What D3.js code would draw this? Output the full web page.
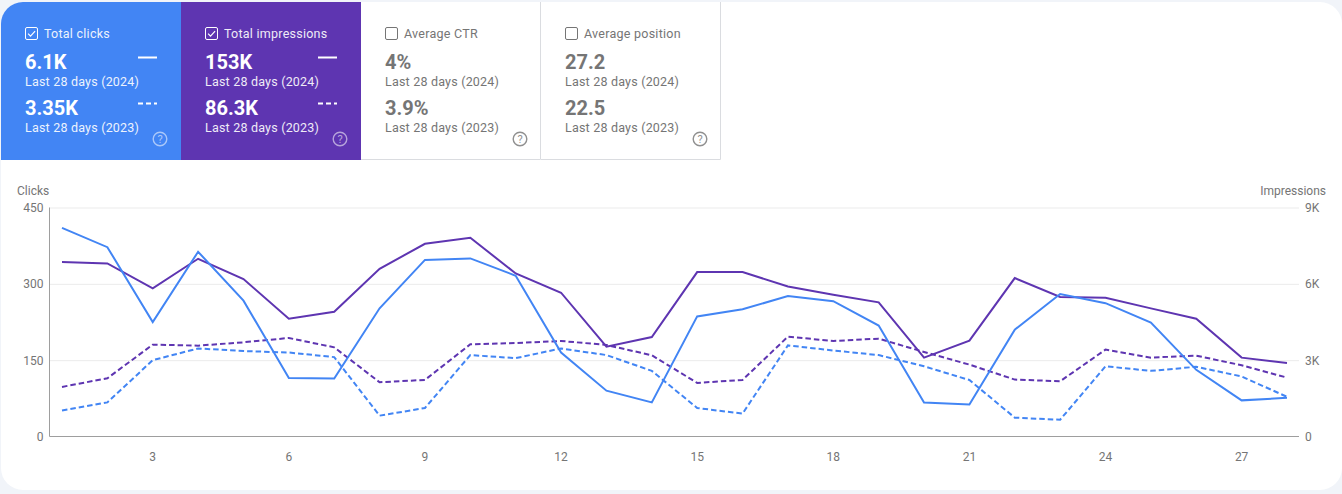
<!DOCTYPE html>
<html><head><meta charset="utf-8">
<script src="https://d3js.org/d3.v7.min.js"></script>
<style>
html,body{margin:0;padding:0;background:#f1f4f9;overflow:hidden}
svg{display:block;font-family:Roboto,sans-serif}
.domain{display:none}
</style></head><body>
<svg id="c" width="1342" height="494"></svg>
<script>
const days = d3.range(1, 29);
const clicks2024 = [410,372,225,363,267,115,114,252,347,350,316,165,90,67,236,250,276,266,218,67,63,210,280,262,224,131,71,76];
const clicks2023 = [51,67,150,173,168,165,156,41,56,160,154,173,160,129,56,45,179,169,160,138,111,37,33,138,129,137,118,78];
const impressions2024 = [6854,6802,5820,6985,6187,4630,4905,6592,7573,7809,6409,5651,3532,3911,6462,6462,5899,5572,5271,3100,3767,6226,5481,5454,5036,4630,3100,2891];
const impressions2023 = [1949,2289,3610,3571,3702,3872,3505,2132,2224,3623,3675,3754,3597,3192,2106,2224,3924,3754,3846,3322,2825,2237,2171,3414,3100,3178,2799,2315];
const xTicks = [3,6,9,12,15,18,21,24,27];
const clickTicks = [0,150,300,450];
const impressionTicks = [0,3000,6000,9000];
const kpiTitles = ["Total clicks","Total impressions","Average CTR","Average position"];
const kpiChecked = [true,true,false,false];
const kpiFill = ["#4285f4","#5e35b1","#ffffff","#ffffff"];
const kpiCurrent = ["6.1K","153K","4%","27.2"];
const kpiPrevious = ["3.35K","86.3K","3.9%","22.5"];
const labelCurrent = "Last 28 days (2024)";
const labelPrevious = "Last 28 days (2023)";
const BLUE = "#4285f4", PURPLE = "#5e35b1", GREY = "#757575";

const svg = d3.select("#c");
const W = 1342;
svg.append("clipPath").attr("id","card").append("rect")
  .attr("x",1).attr("y",2).attr("width",W-1).attr("height",488).attr("rx",22);
const root = svg.append("g").attr("clip-path","url(#card)");
root.append("rect").attr("x",1).attr("y",2).attr("width",W-1).attr("height",488).attr("fill","#fff");

// KPI tiles
const tileW = 180, tileH = 158;
kpiTitles.forEach((t,i) => {
  const on = kpiChecked[i];
  const g = root.append("g").attr("transform",`translate(${1+i*tileW},2)`);
  g.append("rect").attr("width",tileW).attr("height",tileH).attr("fill",kpiFill[i]);
  if(!on){
    g.append("path").attr("d",`M${tileW-.5},0V${tileH-.5}H0`).attr("fill","none").attr("stroke","#dadce0");
  }
  const head = on ? "#fff" : GREY;
  const cb = g.append("g").attr("transform","translate(24.5,25.5)");
  cb.append("rect").attr("width",12).attr("height",12).attr("rx",1.5)
    .attr("fill","none").attr("stroke",head).attr("stroke-width",1);
  if(on) cb.append("path").attr("d","M2.6,6.2L5,8.6L9.6,3.6").attr("fill","none").attr("stroke",head).attr("stroke-width",1.2);
  g.append("text").attr("x",43).attr("y",36).attr("font-size",12.5).attr("letter-spacing",.25)
    .attr("fill",head).attr("opacity",on?.9:1).text(t);
  [[kpiCurrent[i],labelCurrent,66.5,84],[kpiPrevious[i],labelPrevious,112.5,130]].forEach(([v,l,y1,y2]) => {
    g.append("text").attr("x",24).attr("y",y1).attr("font-size",20).attr("font-weight",700).attr("fill",head).text(v);
    g.append("text").attr("x",24).attr("y",y2).attr("font-size",12.5).attr("letter-spacing",.2)
      .attr("fill",head).attr("opacity",on?.9:1).text(l);
  });
  if(on){
    g.append("line").attr("x1",137).attr("x2",156).attr("y1",55.5).attr("y2",55.5).attr("stroke","#fff").attr("stroke-width",2);
    g.append("line").attr("x1",137).attr("x2",156).attr("y1",101.5).attr("y2",101.5).attr("stroke","#fff").attr("stroke-width",2).attr("stroke-dasharray","5 3");
  }
  const help = g.append("g").attr("transform","translate(159,137)").attr("opacity",on?.55:.8);
  help.append("circle").attr("r",6.8).attr("fill","none").attr("stroke",head).attr("stroke-width",1.4);
  help.append("text").attr("text-anchor","middle").attr("y",4).attr("font-size",11).attr("fill",head).text("?");
});

// Scales
const x = d3.scaleLinear().domain([1,28]).range([62,1287]);
const yL = d3.scaleLinear().domain([0,450]).range([436.5,207.5]);
const yR = d3.scaleLinear().domain([0,9000]).range([436.5,207.5]);
const left = 49.5, right = 1299;

// grid
const grid = root.append("g").attr("transform",`translate(${left},0)`)
  .call(d3.axisRight(yL).tickValues(clickTicks.slice(1)).tickSize(right-left).tickFormat(""));
grid.selectAll("line").attr("stroke","#ebebeb");
root.append("line").attr("x1",left).attr("x2",left).attr("y1",207.5).attr("y2",436.5).attr("stroke","#9e9e9e");
root.append("line").attr("x1",left).attr("x2",right).attr("y1",436.5).attr("y2",436.5).attr("stroke","#9e9e9e");

function styleAxis(g){ g.selectAll("text").attr("fill",GREY).attr("font-size",12).attr("font-family","Roboto,sans-serif"); g.selectAll("line").remove(); }
root.append("g").attr("transform","translate(49,0)")
  .call(d3.axisLeft(yL).tickValues(clickTicks).tickSize(0).tickPadding(5.5)).call(styleAxis);
root.append("g").attr("transform","translate(1299,0)")
  .call(d3.axisRight(yR).tickValues(impressionTicks).tickSize(0).tickPadding(6)
    .tickFormat(d => d === 0 ? "0" : (d/1000)+"K")).call(styleAxis);
root.append("g").attr("transform","translate(-0.5,437)")
  .call(d3.axisBottom(x).tickValues(xTicks).tickSize(0).tickPadding(15).tickFormat(d3.format("d"))).call(styleAxis);
root.append("text").attr("x",17).attr("y",195).attr("font-size",12).attr("fill",GREY).text("Clicks");
root.append("text").attr("x",1326).attr("y",195).attr("text-anchor","end").attr("font-size",12).attr("fill",GREY).text("Impressions");

// lines
const series = [
  [impressions2023, yR, PURPLE, "5.5 3"],
  [clicks2023, yL, BLUE, "5.5 3"],
  [impressions2024, yR, PURPLE, null],
  [clicks2024, yL, BLUE, null]
];
series.forEach(([vals,y,color,dash]) => {
  const line = d3.line().x((d,i)=>x(days[i])).y(d=>y(d));
  root.append("path").datum(vals).attr("d",line).attr("fill","none")
    .attr("stroke",color).attr("stroke-width",2).attr("stroke-linejoin","miter")
    .attr("stroke-dasharray",dash);
});
</script>
</body></html>
